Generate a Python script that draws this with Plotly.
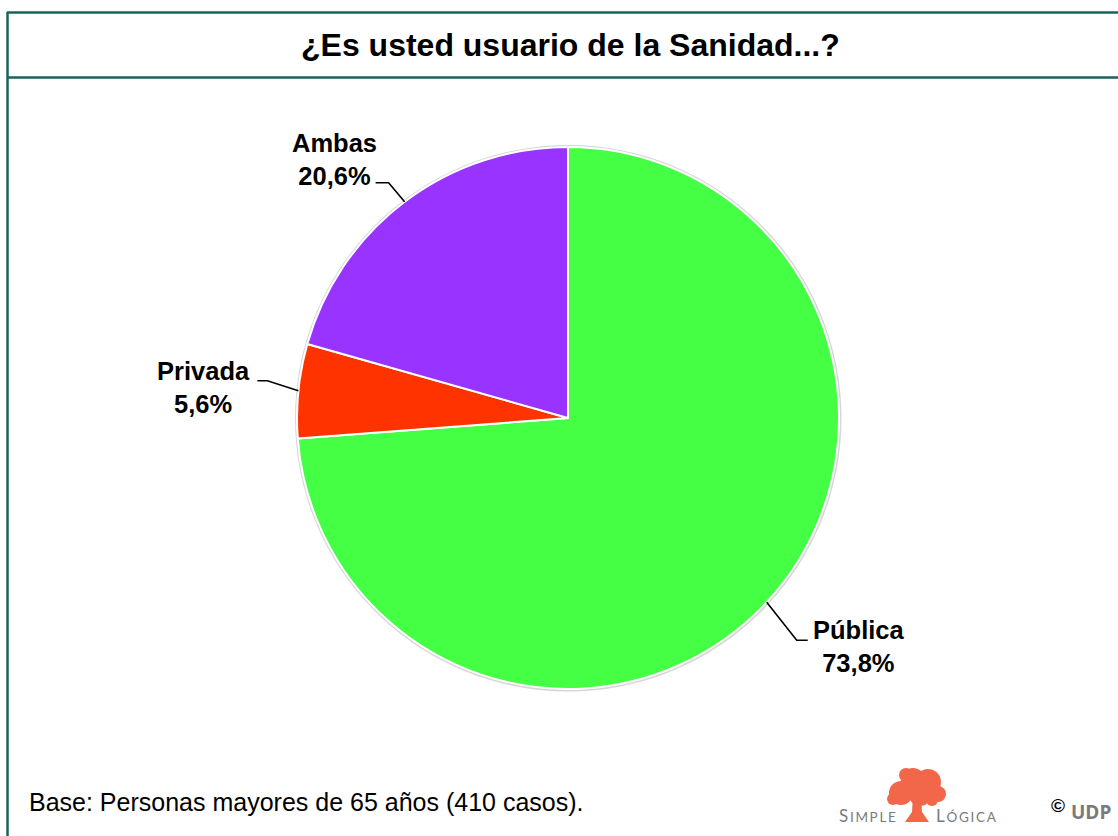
import math
import plotly.graph_objects as go

# ---- data ----
categories = ["Pública", "Privada", "Ambas"]
shares = [73.8, 5.6, 20.6]
slice_colors = ["#44FF44", "#FF3300", "#9933FF"]

title_text = "¿Es usted usuario de la Sanidad...?"
base_note = "Base: Personas mayores de 65 años (410 casos)."

# ---- canvas / geometry (pixels) ----
W, H = 1118, 836
CX, CY, R = 568, 418, 271
FONT = "Arial, Liberation Sans, sans-serif"
BORDER = "#17645B"


def px(x):
    return x / W


def py(y):
    return 1 - y / H


# leader-line styling per label: elbow offset from slice edge, tail length,
# text anchor side, gap and vertical shift of the text block
label_style = {
    "Pública": dict(elbow=(30, 38), tail=11, side="left", gap=3, dy=6),
    "Privada": dict(elbow=(-31, -10), tail=-10, side="right", gap=-5, dy=7),
    "Ambas": dict(elbow=(-16, -19), tail=-13, side="right", gap=3, dy=-23),
}

fig = go.Figure()
fig.add_trace(
    go.Pie(
        labels=categories,
        values=shares,
        marker=dict(colors=slice_colors, line=dict(color="white", width=2)),
        sort=False,
        direction="clockwise",
        rotation=0,
        textinfo="none",
        hoverinfo="label+percent",
        showlegend=False,
        domain=dict(x=[px(CX - R), px(CX + R)], y=[py(CY + R), py(CY - R)]),
    )
)

shapes = []
annotations = []

# soft grey rim behind the pie
shapes.append(
    dict(
        type="circle", xref="paper", yref="paper", layer="below",
        x0=px(CX - R - 2), x1=px(CX + R + 2.5), y0=py(CY + R + 2.5), y1=py(CY - R - 2),
        fillcolor="#d6d6d6", line=dict(width=0),
    )
)

# labels with elbow leader lines, placed from each slice's mid angle
total = sum(shares)
cum = 0.0
for name, v in zip(categories, shares):
    theta = math.radians(360 * (cum + v / 2) / total)
    cum += v
    ax = CX + R * math.sin(theta)
    ay = CY - R * math.cos(theta)
    st = label_style[name]
    ex, ey = ax + st["elbow"][0], ay + st["elbow"][1]
    tx = ex + st["tail"]
    shapes.append(
        dict(
            type="path", xref="paper", yref="paper",
            path=f"M {px(ax)},{py(ay)} L {px(ex)},{py(ey)} L {px(tx)},{py(ey)}",
            line=dict(color="black", width=1.6),
        )
    )
    pct = f"{v:.1f}".replace(".", ",") + "%"
    annotations.append(
        dict(
            xref="paper", yref="paper",
            x=px(tx + st["gap"]), y=py(ey + st["dy"]),
            xanchor=st["side"], yanchor="middle", align="center",
            text=f"<b>{name}</b><br><b>{pct}</b>",
            showarrow=False,
            font=dict(family=FONT, size=25.5, color="black"),
        )
    )

# frame: top rule, title separator, left rule
shapes += [
    dict(type="line", xref="paper", yref="paper", x0=px(7), x1=1, y0=py(12.5), y1=py(12.5),
         line=dict(color=BORDER, width=2.5)),
    dict(type="line", xref="paper", yref="paper", x0=px(7), x1=1, y0=py(77.5), y1=py(77.5),
         line=dict(color=BORDER, width=2.5)),
    dict(type="line", xref="paper", yref="paper", x0=px(7.5), x1=px(7.5), y0=py(12), y1=0,
         line=dict(color=BORDER, width=2.5)),
]

# title
annotations.append(
    dict(xref="paper", yref="paper", x=px(570), y=py(45), xanchor="center", yanchor="middle",
         text=f"<b>{title_text}</b>", showarrow=False,
         font=dict(family=FONT, size=32, color="black"))
)

# footer note
annotations.append(
    dict(xref="paper", yref="paper", x=px(27), y=py(802), xanchor="left", yanchor="middle",
         text=base_note, showarrow=False,
         font=dict(family=FONT, size=25, color="black"))
)

# logo: little tree with SIMPLE LÓGICA wordmark
TREE = "#F2664A"
crown = [(901, 793, 12), (913, 780, 12), (928, 782, 13), (938, 794, 8), (893, 799, 6),
         (920, 795, 11), (906, 775, 7), (932, 800, 6)]
for cx_, cy_, r_ in crown:
    shapes.append(
        dict(type="circle", xref="paper", yref="paper",
             x0=px(cx_ - r_), x1=px(cx_ + r_), y0=py(cy_ + r_), y1=py(cy_ - r_),
             fillcolor=TREE, line=dict(width=0))
    )
trunk = [(913, 795), (912, 812), (905, 822), (929, 822), (922, 812), (921, 795)]
shapes.append(
    dict(type="path", xref="paper", yref="paper",
         path="M " + " L ".join(f"{px(a)},{py(b)}" for a, b in trunk) + " Z",
         fillcolor=TREE, line=dict(width=0))
)

SP = "\u2009"
annotations += [
    dict(xref="paper", yref="paper", x=px(898), y=py(815), xanchor="right", yanchor="middle",
         text=SP.join(["<span style='font-size:17px'>S</span>", "I", "M", "P", "L", "E"]),
         showarrow=False, font=dict(family="Lato, sans-serif", size=13.5, color="#7a7a7a")),
    dict(xref="paper", yref="paper", x=px(934), y=py(815), xanchor="left", yanchor="middle",
         text=SP.join(["<span style='font-size:17px'>L</span>", "Ó", "G", "I", "C", "A"]),
         showarrow=False, font=dict(family="Lato, sans-serif", size=13.5, color="#7a7a7a")),
    dict(xref="paper", yref="paper", x=px(1058), y=py(805), xanchor="center", yanchor="middle",
         text="<b>©</b>", showarrow=False, font=dict(family=FONT, size=19, color="black")),
    dict(xref="paper", yref="paper", x=px(1091), y=py(812), xanchor="center", yanchor="middle",
         text="<b>UDP</b>", showarrow=False,
         font=dict(family="Open Sans, sans-serif", size=19, color="#7a7a7a")),
]

fig.update_layout(
    width=W, height=H,
    margin=dict(l=0, r=0, t=0, b=0),
    paper_bgcolor="white", plot_bgcolor="white",
    shapes=shapes, annotations=annotations,
)

fig.write_html("out.html")
